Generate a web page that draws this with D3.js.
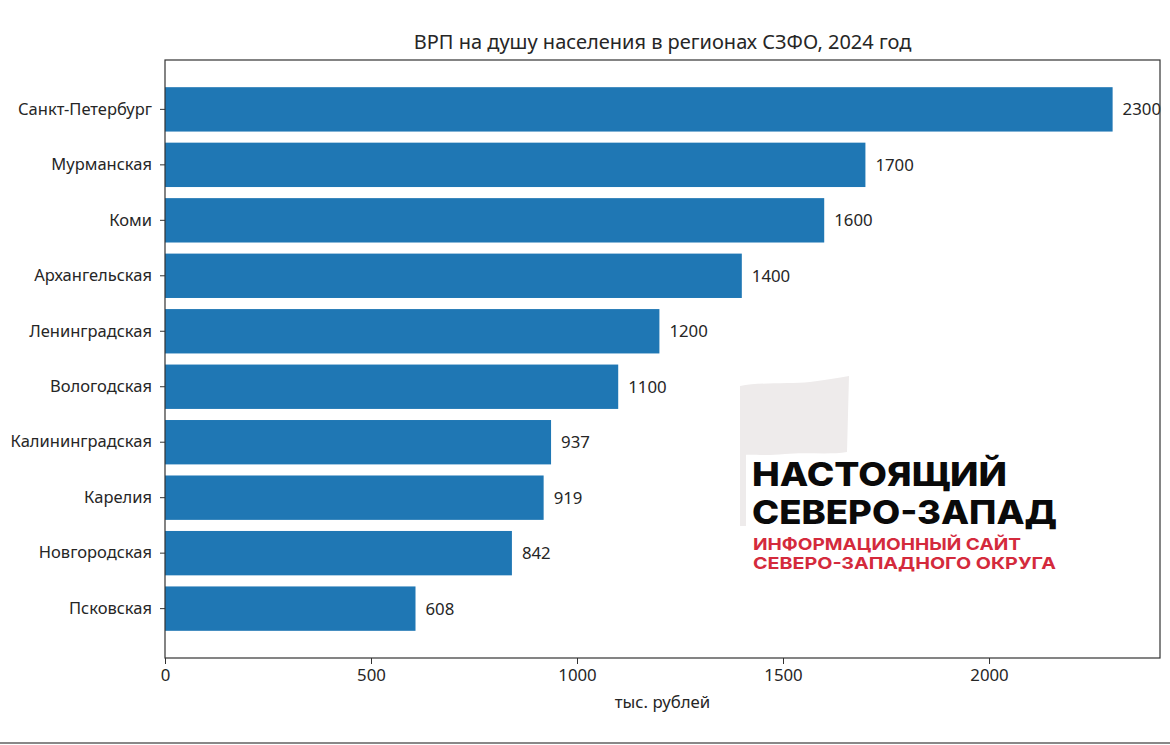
<!DOCTYPE html>
<html><head><meta charset="utf-8">
<script src="https://cdn.jsdelivr.net/npm/d3@7"></script>
<style>
html,body{margin:0;padding:0;background:#fff;}
svg{display:block;}
</style></head>
<body>
<script>
const title = "ВРП на душу населения в регионах СЗФО, 2024 год";
const xLabel = "тыс. рублей";
const categories = ["Санкт-Петербург","Мурманская","Коми","Архангельская","Ленинградская","Вологодская","Калининградская","Карелия","Новгородская","Псковская"];
const values = [2300,1700,1600,1400,1200,1100,937,919,842,608];
const xTicks = [0,500,1000,1500,2000];
const logoLines = ["НАСТОЯЩИЙ","СЕВЕРО-ЗАПАД"];
const logoSub = ["ИНФОРМАЦИОННЫЙ САЙТ","СЕВЕРО-ЗАПАДНОГО ОКРУГА"];

const W = 1170, H = 745;
const m = {left:165, right:1160, top:60, bottom:658};
const font = "'Noto Sans', 'Open Sans', sans-serif";

const svg = d3.select("body").append("svg").attr("width",W).attr("height",H);

const x = d3.scaleLinear().domain([0, d3.max(values)*1.05]).range([m.left, m.right]);
const y = d3.scaleBand().domain(categories).range([m.top, m.bottom]).paddingInner(0.2).paddingOuter(0.49);

// watermark flag
const wm = svg.append("g");
wm.append("path")
  .attr("d","M740,386 C760,382 790,384 810,382 C825,380 838,378 849,376 L847,452 C830,455 805,452 785,454 C765,456 752,454 744,455 Z")
  .attr("fill","#eeebeb");
wm.append("rect").attr("x",740).attr("y",386).attr("width",6).attr("height",140).attr("fill","#eeebeb");

// bars
svg.append("g").selectAll("rect").data(categories).join("rect")
  .attr("x", x(0))
  .attr("y", d => y(d))
  .attr("width", (d,i) => x(values[i]) - x(0))
  .attr("height", y.bandwidth())
  .attr("fill", "#1f77b4");

// value labels
svg.append("g").selectAll("text").data(categories).join("text")
  .attr("x", (d,i) => x(values[i]) + 10)
  .attr("y", d => y(d) + y.bandwidth()/2)
  .attr("dy","0.35em")
  .attr("font-family", font).attr("font-size", 16.8).attr("fill","#262626")
  .text((d,i) => values[i]);

// axes
const xAxis = svg.append("g").attr("transform",`translate(0,${m.bottom})`)
  .call(d3.axisBottom(x).tickValues(xTicks).tickSize(6).tickPadding(5).tickFormat(d3.format("d")));
const yAxis = svg.append("g").attr("transform",`translate(${m.left},0)`)
  .call(d3.axisLeft(y).tickSize(5).tickPadding(8));
[xAxis,yAxis].forEach(a=>{
  a.select(".domain").remove();
  a.selectAll("line").attr("stroke","#333");
  a.selectAll("text").attr("font-family",font).attr("font-size",16.5).attr("fill","#262626");
});
xAxis.selectAll("text").attr("font-size",16.8);

// frame
svg.append("rect").attr("x",m.left).attr("y",m.top).attr("width",m.right-m.left).attr("height",m.bottom-m.top)
  .attr("fill","none").attr("stroke","#333").attr("stroke-width",1.2);

// title
svg.append("text").attr("x",(m.left+m.right)/2).attr("y",49).attr("text-anchor","middle")
  .attr("font-family",font).attr("font-size",20).attr("fill","#262626").text(title);
// x label
svg.append("text").attr("x",(m.left+m.right)/2).attr("y",708).attr("text-anchor","middle")
  .attr("font-family",font).attr("font-size",16.8).attr("fill","#262626").text(xLabel);

// logo text
const logoFont = "Inter, Roboto, sans-serif";
wm.selectAll("text.l1").data(logoLines).join("text").attr("class","l1")
  .attr("x",752).attr("y",(d,i)=>486+i*38)
  .attr("font-family",logoFont).attr("font-weight",800).attr("font-size",33).attr("fill","#0a0a0a")
  .attr("textLength",(d,i)=>[255,305][i]).attr("lengthAdjust","spacingAndGlyphs")
  .text(d=>d);
wm.selectAll("text.l2").data(logoSub).join("text").attr("class","l2")
  .attr("x",753).attr("y",(d,i)=>550+i*18.5)
  .attr("font-family",logoFont).attr("font-weight",700).attr("font-size",16.5).attr("fill","#d42a3c")
  .attr("textLength",(d,i)=>[268,303][i]).attr("lengthAdjust","spacingAndGlyphs")
  .text(d=>d);

// bottom gray line
svg.append("line").attr("x1",0).attr("x2",W).attr("y1",743).attr("y2",743).attr("stroke","#888").attr("stroke-width",2);
</script>
</body></html>
